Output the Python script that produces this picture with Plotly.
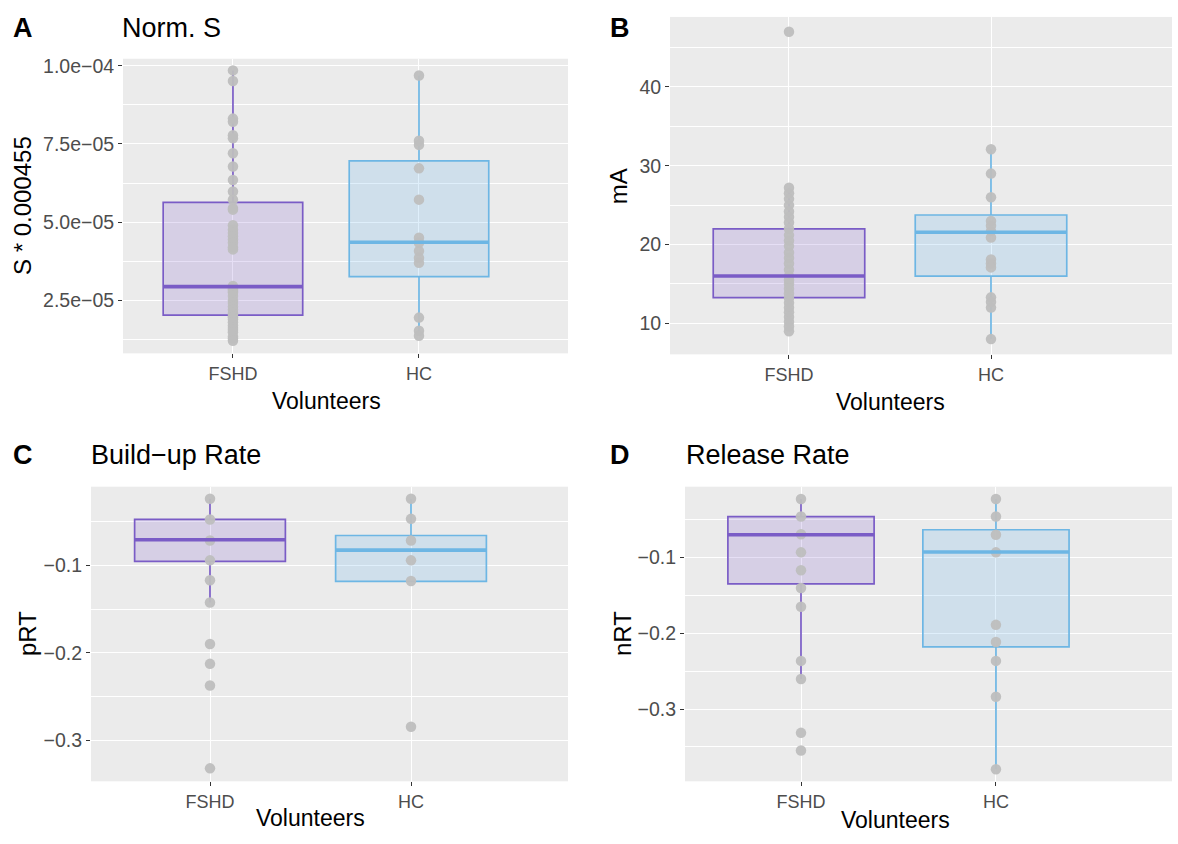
import plotly.graph_objects as go

# ---------------- data ----------------
groups = ["FSHD", "HC"]
positions = [1, 2]

# Panel A: Norm. S  (S * 0.000455)
a_fshd = [9.85e-5, 9.51e-5, 8.31e-5, 8.21e-5, 7.78e-5, 7.68e-5, 7.20e-5, 6.78e-5, 6.35e-5,
          5.98e-5, 5.72e-5, 5.45e-5, 5.40e-5, 4.90e-5, 4.76e-5, 4.65e-5, 4.55e-5, 4.45e-5,
          4.34e-5, 4.20e-5, 4.13e-5, 2.96e-5, 2.90e-5, 2.85e-5, 2.80e-5, 2.75e-5, 2.64e-5,
          2.50e-5, 2.42e-5, 2.30e-5, 2.20e-5, 2.10e-5, 2.05e-5, 1.98e-5, 1.95e-5, 1.89e-5,
          1.80e-5, 1.70e-5, 1.62e-5, 1.55e-5, 1.48e-5, 1.35e-5, 1.28e-5, 1.21e-5]
a_hc = [9.69e-5, 7.60e-5, 7.47e-5, 6.72e-5, 5.72e-5, 4.50e-5, 4.34e-5, 4.08e-5, 3.86e-5,
        3.70e-5, 1.95e-5, 1.53e-5, 1.37e-5]
a_q1 = [2.03e-5, 3.26e-5]
a_med = [2.94e-5, 4.36e-5]
a_q3 = [5.63e-5, 6.96e-5]
a_lo = [1.21e-5, 1.37e-5]
a_hi = [9.85e-5, 9.69e-5]
a_ticks = [2.5e-5, 5.0e-5, 7.5e-5, 1.0e-4]
a_ticktext = ["2.5e\u221205", "5.0e\u221205", "7.5e\u221205", "1.0e\u221204"]
a_minor = [1.25e-5, 3.75e-5, 6.25e-5, 8.75e-5]

# Panel B: mA
b_fshd = [47.0, 27.2, 26.5, 25.8, 25.0, 24.2, 23.5, 22.8, 22.0, 21.2, 20.5, 19.8, 19.0,
          18.3, 17.6, 16.8, 16.0, 15.5, 15.0, 14.4, 13.8, 13.2, 12.6, 12.0, 11.4, 10.8,
          10.2, 9.6, 9.0]
b_hc = [32.1, 29.0, 26.0, 23.0, 22.4, 21.7, 20.9, 18.1, 17.6, 17.1, 13.3, 12.7, 12.0, 8.0]
b_q1 = [13.27, 16.0]
b_med = [16.0, 21.56]
b_q3 = [22.0, 23.75]
b_lo = [9.0, 8.0]
b_hi = [27.2, 32.1]
b_ticks = [10, 20, 30, 40]
b_ticktext = ["10", "20", "30", "40"]
b_minor = [15, 25, 35, 45]

# Panel C: Build-up Rate (pRT)
c_fshd = [-0.0239, -0.0477, -0.0716, -0.0943, -0.117, -0.1424, -0.1898, -0.2125,
          -0.2372, -0.3318]
c_hc = [-0.0239, -0.0469, -0.0716, -0.0943, -0.1178, -0.2844]
c_q1 = [-0.0955, -0.1182]
c_med = [-0.0708, -0.0826]
c_q3 = [-0.0474, -0.0659]
c_lo = [-0.1424, -0.1178]
c_hi = [-0.0239, -0.0239]
c_ticks = [-0.3, -0.2, -0.1]
c_ticktext = ["\u22120.3", "\u22120.2", "\u22120.1"]
c_minor = [-0.35, -0.25, -0.15, -0.05]

# Panel D: Release Rate (nRT)
d_fshd = [-0.023, -0.0462, -0.0694, -0.0934, -0.117, -0.1403, -0.1652, -0.2365,
          -0.2605, -0.3314, -0.3546]
d_hc = [-0.023, -0.0462, -0.0702, -0.0934, -0.189, -0.2116, -0.2365, -0.2837, -0.3795]
d_q1 = [-0.135, -0.218]
d_med = [-0.0702, -0.093]
d_q3 = [-0.0462, -0.0636]
d_lo = [-0.2605, -0.3795]
d_hi = [-0.023, -0.023]
d_ticks = [-0.3, -0.2, -0.1]
d_ticktext = ["\u22120.3", "\u22120.2", "\u22120.1"]
d_minor = [-0.35, -0.25, -0.15, -0.05]

# ---------------- styling / layout ----------------
W, H = 1178, 844
FONT = "Liberation Sans"
line_colors = ["#7A5CC6", "#6DB6E4"]
fill_colors = ["rgba(140,110,210,0.22)", "rgba(110,180,235,0.22)"]
point_color = "#BEBEBE"
BOX_W = 0.75
XTICK_SIZE = 18
YTICK_SIZE = 19.5
TITLE_SIZE = 27
AXTITLE_SIZE = 23


def px_x(p):
    return p / W


def px_y(p):
    return 1 - p / H


panels = [
    dict(pts=[a_fshd, a_hc], q1=a_q1, med=a_med, q3=a_q3, lo=a_lo, hi=a_hi,
         ticks=a_ticks, tt=a_ticktext, minor=a_minor,
         yr=[8.08e-6, 1.0223e-4], xr=[0.409, 2.801], box=(123, 568, 55, 351)),
    dict(pts=[b_fshd, b_hc], q1=b_q1, med=b_med, q3=b_q3, lo=b_lo, hi=b_hi,
         ticks=b_ticks, tt=b_ticktext, minor=b_minor,
         yr=[6.07, 48.88], xr=[0.411, 2.896], box=(670, 1172, 13, 352)),
    dict(pts=[c_fshd, c_hc], q1=c_q1, med=c_med, q3=c_q3, lo=c_lo, hi=c_hi,
         ticks=c_ticks, tt=c_ticktext, minor=c_minor,
         yr=[-0.3466, -0.0102], xr=[0.408, 2.781], box=(91, 568, 485, 781)),
    dict(pts=[d_fshd, d_hc], q1=d_q1, med=d_med, q3=d_q3, lo=d_lo, hi=d_hi,
         ticks=d_ticks, tt=d_ticktext, minor=d_minor,
         yr=[-0.3953, -0.0068], xr=[0.405, 2.903], box=(685, 1172, 485, 781)),
]

fig = go.Figure()
shapes = []
layout = dict(width=W, height=H, margin=dict(l=0, r=0, t=0, b=0),
              paper_bgcolor="white", plot_bgcolor="#EBEBEB", showlegend=False,
              font=dict(family=FONT, color="#000000"))

for i, p in enumerate(panels):
    n = "" if i == 0 else str(i + 1)
    xa, ya = "x" + n, "y" + n
    l, r, t, b = p["box"]
    layout["xaxis" + n] = dict(
        domain=[px_x(l), px_x(r)], range=p["xr"], anchor=ya,
        tickvals=positions, ticktext=groups, showgrid=True, gridcolor="white",
        gridwidth=1.4, zeroline=False, showline=False, ticks="outside", ticklen=4,
        tickwidth=1.3, tickcolor="#333333",
        tickfont=dict(family=FONT, size=XTICK_SIZE, color="#4D4D4D"), fixedrange=True)
    layout["yaxis" + n] = dict(
        domain=[px_y(b), px_y(t)], range=p["yr"], anchor=xa,
        tickvals=p["ticks"], ticktext=p["tt"], showgrid=True, gridcolor="white",
        gridwidth=1.4, zeroline=False, showline=False, ticks="outside", ticklen=4,
        tickwidth=1.3, tickcolor="#333333",
        tickfont=dict(family=FONT, size=YTICK_SIZE, color="#4D4D4D"),
        minor=dict(tickvals=p["minor"], showgrid=True, gridcolor="white",
                   gridwidth=0.7, ticks=""), fixedrange=True)
    for g in range(2):
        fig.add_trace(go.Box(
            x=[positions[g]], q1=[p["q1"][g]], median=[p["med"][g]], q3=[p["q3"][g]],
            lowerfence=[p["lo"][g]], upperfence=[p["hi"][g]], width=BOX_W,
            fillcolor=fill_colors[g], line=dict(color=line_colors[g], width=1.7),
            whiskerwidth=0, boxpoints=False, hoverinfo="skip", xaxis=xa, yaxis=ya))
        shapes.append(dict(type="line", xref=xa, yref=ya,
                           x0=positions[g] - BOX_W / 2, x1=positions[g] + BOX_W / 2,
                           y0=p["med"][g], y1=p["med"][g],
                           line=dict(color=line_colors[g], width=3.6), layer="above"))
    for g in range(2):
        fig.add_trace(go.Scatter(
            x=[positions[g]] * len(p["pts"][g]), y=p["pts"][g], mode="markers",
            marker=dict(color=point_color, size=10.5, opacity=0.95),
            hoverinfo="skip", xaxis=xa, yaxis=ya))

layout["shapes"] = shapes


def ann(text, x, y, size, xanchor="center", yanchor="middle", angle=0, bold=False,
        color="#000000"):
    return dict(text=("<b>%s</b>" % text) if bold else text, x=px_x(x), y=px_y(y),
                xref="paper", yref="paper", showarrow=False, xanchor=xanchor,
                yanchor=yanchor, textangle=angle,
                font=dict(family=FONT, size=size, color=color))


annotations = [
    ann("A", 11, 24, TITLE_SIZE, xanchor="left", bold=True),
    ann("Norm. S", 120, 24, TITLE_SIZE, xanchor="left"),
    ann("B", 608, 24, TITLE_SIZE, xanchor="left", bold=True),
    ann("C", 11, 453, TITLE_SIZE, xanchor="left", bold=True),
    ann("Build\u2212up Rate", 89, 453, TITLE_SIZE, xanchor="left"),
    ann("D", 608, 453, TITLE_SIZE, xanchor="left", bold=True),
    ann("Release Rate", 684, 453, TITLE_SIZE, xanchor="left"),
    ann("S * 0.000455", 22, 203, 24, angle=-90),
    ann("mA", 618, 183, 24, angle=-90),
    ann("pRT", 27, 633, 24, angle=-90),
    ann("nRT", 622, 633, 24, angle=-90),
    ann("Volunteers", 326, 399, AXTITLE_SIZE),
    ann("Volunteers", 890, 400, AXTITLE_SIZE),
    ann("Volunteers", 310, 818, AXTITLE_SIZE),
    ann("Volunteers", 895, 820, AXTITLE_SIZE),
]
layout["annotations"] = annotations

fig.update_layout(**layout)
fig.write_html("out.html")
